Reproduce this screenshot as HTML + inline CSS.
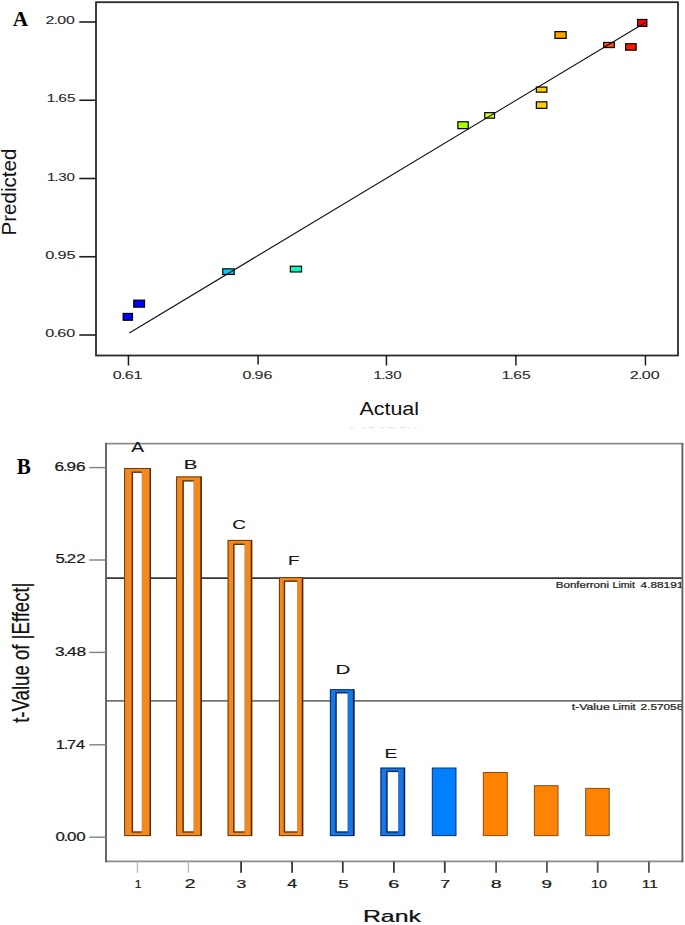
<!DOCTYPE html>
<html><head><meta charset="utf-8"><style>
html,body{margin:0;padding:0;background:#fff;overflow:hidden;width:685px;height:925px;}
svg{display:block;}
</style></head><body>
<svg width="685" height="925" viewBox="0 0 685 925">
<defs><clipPath id="cb"><rect x="106" y="443" width="575.6" height="420"/></clipPath></defs>
<rect x="96.0" y="2.2" width="582.0" height="353.3" fill="none" stroke="#2a2a2a" stroke-width="1.8"/>
<line x1="79.3" y1="22.00" x2="96" y2="22.00" stroke="#1e1e1e" stroke-width="1.6"/>
<line x1="79.3" y1="100.25" x2="96" y2="100.25" stroke="#1e1e1e" stroke-width="1.6"/>
<line x1="79.3" y1="178.50" x2="96" y2="178.50" stroke="#1e1e1e" stroke-width="1.6"/>
<line x1="79.3" y1="256.75" x2="96" y2="256.75" stroke="#1e1e1e" stroke-width="1.6"/>
<line x1="79.3" y1="335.00" x2="96" y2="335.00" stroke="#1e1e1e" stroke-width="1.6"/>
<line x1="128.44" y1="355" x2="128.44" y2="365.5" stroke="#1a1a1a" stroke-width="1.5"/>
<line x1="258.10" y1="355" x2="258.10" y2="364.5" stroke="#1a1a1a" stroke-width="1.5"/>
<line x1="386.44" y1="355" x2="386.44" y2="365.5" stroke="#1a1a1a" stroke-width="1.5"/>
<line x1="515.90" y1="355" x2="515.90" y2="365.4" stroke="#1a1a1a" stroke-width="1.5"/>
<line x1="645.44" y1="355" x2="645.44" y2="365.5" stroke="#1a1a1a" stroke-width="1.5"/>
<text transform="matrix(1.4831,0,0,1,45.41,23.69)" font-family="Liberation Sans, sans-serif" font-weight="normal" font-size="10.704" fill="#2a2a2a" stroke="#2a2a2a" stroke-width="0.100">2<tspan dx="-0.482">.</tspan><tspan dx="-0.482">0</tspan>0</text>
<text transform="matrix(1.4610,0,0,1,46.87,102.19)" font-family="Liberation Sans, sans-serif" font-weight="normal" font-size="10.563" fill="#2a2a2a" stroke="#2a2a2a" stroke-width="0.100">1<tspan dx="-0.475">.</tspan><tspan dx="-0.475">6</tspan>5</text>
<text transform="matrix(1.4502,0,0,1,46.89,180.50)" font-family="Liberation Sans, sans-serif" font-weight="normal" font-size="10.423" fill="#2a2a2a" stroke="#2a2a2a" stroke-width="0.100">1<tspan dx="-0.469">.</tspan><tspan dx="-0.469">3</tspan>0</text>
<text transform="matrix(1.4862,0,0,1,45.25,258.79)" font-family="Liberation Sans, sans-serif" font-weight="normal" font-size="10.986" fill="#2a2a2a" stroke="#2a2a2a" stroke-width="0.100">0<tspan dx="-0.494">.</tspan><tspan dx="-0.494">9</tspan>5</text>
<text transform="matrix(1.5317,0,0,1,45.25,336.79)" font-family="Liberation Sans, sans-serif" font-weight="normal" font-size="10.563" fill="#2a2a2a" stroke="#2a2a2a" stroke-width="0.100">0<tspan dx="-0.475">.</tspan><tspan dx="-0.475">6</tspan>0</text>
<text transform="matrix(1.5243,0,0,1,112.66,378.59)" font-family="Liberation Sans, sans-serif" font-weight="normal" font-size="10.563" fill="#2a2a2a" stroke="#2a2a2a" stroke-width="0.100">0<tspan dx="-0.475">.</tspan><tspan dx="-0.475">6</tspan>1</text>
<text transform="matrix(1.5243,0,0,1,242.46,378.59)" font-family="Liberation Sans, sans-serif" font-weight="normal" font-size="10.563" fill="#2a2a2a" stroke="#2a2a2a" stroke-width="0.100">0<tspan dx="-0.475">.</tspan><tspan dx="-0.475">9</tspan>6</text>
<text transform="matrix(1.3990,0,0,1,373.49,378.79)" font-family="Liberation Sans, sans-serif" font-weight="normal" font-size="10.845" fill="#2a2a2a" stroke="#2a2a2a" stroke-width="0.100">1<tspan dx="-0.488">.</tspan><tspan dx="-0.488">3</tspan>0</text>
<text transform="matrix(1.4391,0,0,1,501.65,378.79)" font-family="Liberation Sans, sans-serif" font-weight="normal" font-size="10.845" fill="#2a2a2a" stroke="#2a2a2a" stroke-width="0.100">1<tspan dx="-0.488">.</tspan><tspan dx="-0.488">6</tspan>5</text>
<text transform="matrix(1.5042,0,0,1,629.79,378.59)" font-family="Liberation Sans, sans-serif" font-weight="normal" font-size="10.704" fill="#2a2a2a" stroke="#2a2a2a" stroke-width="0.100">2<tspan dx="-0.482">.</tspan><tspan dx="-0.482">0</tspan>0</text>
<rect x="123.15" y="313.45" width="9.30" height="6.80" fill="#0000ff" stroke="#000" stroke-width="1.2"/>
<rect x="133.75" y="300.15" width="10.80" height="7.00" fill="#0000ff" stroke="#000" stroke-width="1.2"/>
<rect x="222.75" y="268.85" width="11.40" height="5.60" fill="#00d0ff" stroke="#000" stroke-width="1.2"/>
<rect x="290.35" y="266.25" width="11.20" height="5.70" fill="#00fcc2" stroke="#000" stroke-width="1.2"/>
<rect x="457.85" y="121.75" width="10.40" height="6.90" fill="#a5ff00" stroke="#000" stroke-width="1.2"/>
<rect x="484.75" y="112.65" width="9.80" height="5.50" fill="#dcff00" stroke="#000" stroke-width="1.2"/>
<rect x="536.35" y="87.05" width="10.50" height="5.10" fill="#ffcd00" stroke="#000" stroke-width="1.2"/>
<rect x="536.35" y="101.85" width="10.50" height="6.50" fill="#ffcd00" stroke="#000" stroke-width="1.2"/>
<rect x="554.95" y="31.65" width="11.20" height="6.70" fill="#ffa500" stroke="#000" stroke-width="1.2"/>
<rect x="603.65" y="42.45" width="10.70" height="5.10" fill="#ff5000" stroke="#000" stroke-width="1.2"/>
<rect x="625.65" y="43.75" width="10.50" height="6.40" fill="#ff1900" stroke="#000" stroke-width="1.2"/>
<rect x="637.55" y="19.45" width="9.30" height="6.90" fill="#ff0000" stroke="#000" stroke-width="1.2"/>
<line x1="129.3" y1="333.0" x2="645.4" y2="22.4" stroke="#111" stroke-width="1.15"/>
<text transform="matrix(0.9689,0,0,1,12.64,25.65)" font-family="Liberation Serif, sans-serif" font-weight="bold" font-size="21.970" fill="#000">A</text>
<text transform="matrix(1.1252,0,0,1,359.45,415.16)" font-family="Liberation Sans, sans-serif" font-weight="normal" font-size="19.054" fill="#111">Actual</text>
<text transform="matrix(0,-1.0507,1,0,16.05,235.50)" font-family="Liberation Sans, sans-serif" font-weight="normal" font-size="19.595" fill="#111">Predicted</text>
<rect x="349.9" y="427" width="3.2" height="1.2" fill="#e6e6e6"/>
<rect x="363" y="427" width="2.6" height="1.2" fill="#e6e6e6"/>
<rect x="368.2" y="427" width="6.6" height="1.2" fill="#e6e6e6"/>
<rect x="380" y="427" width="4.0" height="1.2" fill="#e6e6e6"/>
<rect x="387.3" y="427" width="5.9" height="1.2" fill="#e6e6e6"/>
<rect x="393.9" y="427" width="1.9" height="1.2" fill="#e6e6e6"/>
<rect x="399.8" y="427" width="6.6" height="1.2" fill="#e6e6e6"/>
<rect x="407.7" y="427" width="1.9" height="1.2" fill="#e6e6e6"/>
<rect x="414.2" y="427" width="2.7" height="1.2" fill="#e6e6e6"/>
<line x1="106" y1="578.1" x2="682" y2="578.1" stroke="#3a3434" stroke-width="1.6"/>
<line x1="106" y1="700.9" x2="682" y2="700.9" stroke="#727272" stroke-width="1.9"/>
<path d="M105.2,443.65 H683.2 M105.2,861.4 H683.2" stroke="#8a8a8a" stroke-width="1.6" fill="none"/>
<path d="M106.0,443 V862.2 M682.4,443 V862.2" stroke="#626262" stroke-width="1.9" fill="none"/>
<line x1="89.3" y1="467.60" x2="106" y2="467.60" stroke="#808080" stroke-width="1.4"/>
<line x1="89.3" y1="560.00" x2="106" y2="560.00" stroke="#808080" stroke-width="1.4"/>
<line x1="89.3" y1="652.40" x2="106" y2="652.40" stroke="#808080" stroke-width="1.4"/>
<line x1="89.3" y1="744.80" x2="106" y2="744.80" stroke="#808080" stroke-width="1.4"/>
<line x1="89.3" y1="837.20" x2="106" y2="837.20" stroke="#808080" stroke-width="1.4"/>
<line x1="137.44" y1="861.5" x2="137.44" y2="872.8" stroke="#b8b8b8" stroke-width="1.3"/>
<line x1="188.40" y1="861.5" x2="188.40" y2="872.8" stroke="#b8b8b8" stroke-width="1.3"/>
<line x1="241.10" y1="861.5" x2="241.10" y2="872.8" stroke="#383838" stroke-width="1.8"/>
<line x1="292.10" y1="861.5" x2="292.10" y2="872.8" stroke="#383838" stroke-width="1.8"/>
<line x1="342.80" y1="861.5" x2="342.80" y2="872.8" stroke="#383838" stroke-width="1.8"/>
<line x1="393.90" y1="861.5" x2="393.90" y2="872.8" stroke="#383838" stroke-width="1.8"/>
<line x1="444.80" y1="861.5" x2="444.80" y2="872.8" stroke="#383838" stroke-width="1.8"/>
<line x1="496.10" y1="861.5" x2="496.10" y2="872.8" stroke="#555" stroke-width="1.8"/>
<line x1="546.90" y1="861.5" x2="546.90" y2="872.8" stroke="#555" stroke-width="1.8"/>
<line x1="597.70" y1="861.5" x2="597.70" y2="872.8" stroke="#555" stroke-width="1.8"/>
<line x1="648.90" y1="861.5" x2="648.90" y2="872.8" stroke="#555" stroke-width="1.8"/>
<text transform="matrix(1.0416,0,0,1,134.70,887.94)" font-family="Liberation Sans, sans-serif" font-weight="normal" font-size="11.565" fill="#1a1a1a" stroke="#1a1a1a" stroke-width="0.220">1</text>
<text transform="matrix(1.6125,0,0,1,184.79,888.14)" font-family="Liberation Sans, sans-serif" font-weight="normal" font-size="11.971" fill="#1a1a1a" stroke="#1a1a1a" stroke-width="0.220">2</text>
<text transform="matrix(1.4926,0,0,1,236.46,888.02)" font-family="Liberation Sans, sans-serif" font-weight="normal" font-size="11.803" fill="#1a1a1a" stroke="#1a1a1a" stroke-width="0.220">3</text>
<text transform="matrix(1.4983,0,0,1,287.30,888.16)" font-family="Liberation Sans, sans-serif" font-weight="normal" font-size="11.882" fill="#1a1a1a" stroke="#1a1a1a" stroke-width="0.220">4</text>
<text transform="matrix(1.5986,0,0,1,338.31,888.02)" font-family="Liberation Sans, sans-serif" font-weight="normal" font-size="11.686" fill="#1a1a1a" stroke="#1a1a1a" stroke-width="0.220">5</text>
<text transform="matrix(1.6908,0,0,1,388.36,888.02)" font-family="Liberation Sans, sans-serif" font-weight="normal" font-size="11.803" fill="#1a1a1a" stroke="#1a1a1a" stroke-width="0.220">6</text>
<text transform="matrix(1.5338,0,0,1,440.16,888.06)" font-family="Liberation Sans, sans-serif" font-weight="normal" font-size="11.735" fill="#1a1a1a" stroke="#1a1a1a" stroke-width="0.220">7</text>
<text transform="matrix(1.6549,0,0,1,490.78,888.02)" font-family="Liberation Sans, sans-serif" font-weight="normal" font-size="11.803" fill="#1a1a1a" stroke="#1a1a1a" stroke-width="0.220">8</text>
<text transform="matrix(1.5987,0,0,1,541.52,888.02)" font-family="Liberation Sans, sans-serif" font-weight="normal" font-size="11.803" fill="#1a1a1a" stroke="#1a1a1a" stroke-width="0.220">9</text>
<text transform="matrix(1.3511,0,0,1,591.11,887.83)" font-family="Liberation Sans, sans-serif" font-weight="normal" font-size="10.676" fill="#1a1a1a" stroke="#1a1a1a" stroke-width="0.220">10</text>
<text transform="matrix(1.4084,0,0,1,641.82,887.94)" font-family="Liberation Sans, sans-serif" font-weight="normal" font-size="10.986" fill="#1a1a1a" stroke="#1a1a1a" stroke-width="0.220">11</text>
<text transform="matrix(1.4253,0,0,1,54.60,470.52)" font-family="Liberation Sans, sans-serif" font-weight="normal" font-size="12.085" fill="#1a1a1a" stroke="#1a1a1a" stroke-width="0.220">6<tspan dx="-0.906">.</tspan><tspan dx="-0.906">9</tspan>6</text>
<text transform="matrix(1.3410,0,0,1,55.39,563.01)" font-family="Liberation Sans, sans-serif" font-weight="normal" font-size="12.507" fill="#1a1a1a" stroke="#1a1a1a" stroke-width="0.220">5<tspan dx="-0.938">.</tspan><tspan dx="-0.938">2</tspan>2</text>
<text transform="matrix(1.3572,0,0,1,55.07,656.31)" font-family="Liberation Sans, sans-serif" font-weight="normal" font-size="12.789" fill="#1a1a1a" stroke="#1a1a1a" stroke-width="0.220">3<tspan dx="-0.959">.</tspan><tspan dx="-0.959">4</tspan>8</text>
<text transform="matrix(1.3124,0,0,1,55.85,748.54)" font-family="Liberation Sans, sans-serif" font-weight="normal" font-size="12.435" fill="#1a1a1a" stroke="#1a1a1a" stroke-width="0.220">1<tspan dx="-0.933">.</tspan><tspan dx="-0.933">7</tspan>4</text>
<text transform="matrix(1.3175,0,0,1,55.39,841.21)" font-family="Liberation Sans, sans-serif" font-weight="normal" font-size="12.789" fill="#1a1a1a" stroke="#1a1a1a" stroke-width="0.220">0<tspan dx="-0.959">.</tspan><tspan dx="-0.959">0</tspan>0</text>
<rect x="124.1" y="468.0" width="26.9" height="368.1" fill="#f2891e"/>
<rect x="124.6" y="468.5" width="25.9" height="367.1" fill="none" stroke="#4a2408" stroke-width="1" stroke-opacity="0.8"/>
<rect x="149.5" y="468.5" width="1.5" height="367.1" fill="#4a2408" fill-opacity="0.85"/>
<rect x="131.6" y="471.5" width="10.2" height="361.2" fill="#4a2408" fill-opacity="0.85"/>
<rect x="133.1" y="472.9" width="8.7" height="358.4" fill="#fff"/>
<rect x="176.1" y="476.4" width="25.7" height="359.7" fill="#f2891e"/>
<rect x="176.6" y="476.9" width="24.7" height="358.7" fill="none" stroke="#4a2408" stroke-width="1" stroke-opacity="0.8"/>
<rect x="200.3" y="476.9" width="1.5" height="358.7" fill="#4a2408" fill-opacity="0.85"/>
<rect x="182.4" y="480.2" width="11.2" height="352.5" fill="#4a2408" fill-opacity="0.85"/>
<rect x="183.9" y="481.6" width="9.7" height="349.7" fill="#fff"/>
<rect x="227.6" y="539.9" width="24.6" height="296.2" fill="#f2891e"/>
<rect x="228.1" y="540.4" width="23.6" height="295.2" fill="none" stroke="#4a2408" stroke-width="1" stroke-opacity="0.8"/>
<rect x="250.7" y="540.4" width="1.5" height="295.2" fill="#4a2408" fill-opacity="0.85"/>
<rect x="233.1" y="543.6" width="11.5" height="289.1" fill="#4a2408" fill-opacity="0.85"/>
<rect x="234.6" y="545.0" width="10.0" height="286.3" fill="#fff"/>
<rect x="278.9" y="577.1" width="24.3" height="259.0" fill="#f2891e"/>
<rect x="279.4" y="577.6" width="23.3" height="258.0" fill="none" stroke="#4a2408" stroke-width="1" stroke-opacity="0.8"/>
<rect x="301.7" y="577.6" width="1.5" height="258.0" fill="#4a2408" fill-opacity="0.85"/>
<rect x="283.7" y="580.5" width="13.5" height="252.2" fill="#4a2408" fill-opacity="0.85"/>
<rect x="285.2" y="581.9" width="12.0" height="249.4" fill="#fff"/>
<rect x="329.9" y="689.2" width="24.5" height="146.9" fill="#1676e4"/>
<rect x="330.4" y="689.7" width="23.5" height="145.9" fill="none" stroke="#061a4a" stroke-width="1" stroke-opacity="0.8"/>
<rect x="352.9" y="689.7" width="1.5" height="145.9" fill="#061a4a" fill-opacity="0.85"/>
<rect x="335.3" y="692.1" width="12.3" height="140.6" fill="#061a4a" fill-opacity="0.85"/>
<rect x="336.8" y="693.5" width="10.8" height="137.8" fill="#fff"/>
<rect x="380.4" y="767.6" width="24.7" height="68.5" fill="#1676e4"/>
<rect x="380.9" y="768.1" width="23.7" height="67.5" fill="none" stroke="#061a4a" stroke-width="1" stroke-opacity="0.8"/>
<rect x="403.6" y="768.1" width="1.5" height="67.5" fill="#061a4a" fill-opacity="0.85"/>
<rect x="386.2" y="770.7" width="12.0" height="62.0" fill="#061a4a" fill-opacity="0.85"/>
<rect x="387.7" y="772.1" width="10.5" height="59.2" fill="#fff"/>
<rect x="432.3" y="768.0" width="23.7" height="67.6" fill="#0080ff" stroke="#0a3070" stroke-width="1"/>
<rect x="483.3" y="772.5" width="24.0" height="63.1" fill="#ff8200" stroke="#8a4a10" stroke-width="1"/>
<rect x="534.4" y="785.7" width="23.6" height="49.9" fill="#ff8200" stroke="#8a4a10" stroke-width="1"/>
<rect x="585.7" y="788.4" width="23.5" height="47.2" fill="#ff8200" stroke="#8a4a10" stroke-width="1"/>
<text transform="matrix(1.3564,0,0,1,131.32,452.47)" font-family="Liberation Sans, sans-serif" font-weight="normal" font-size="14.130" fill="#151515" stroke="#151515" stroke-width="0.150">A</text>
<text transform="matrix(1.5783,0,0,1,183.69,469.07)" font-family="Liberation Sans, sans-serif" font-weight="normal" font-size="12.971" fill="#151515" stroke="#151515" stroke-width="0.150">B</text>
<text transform="matrix(1.5569,0,0,1,232.18,529.25)" font-family="Liberation Sans, sans-serif" font-weight="normal" font-size="12.183" fill="#151515" stroke="#151515" stroke-width="0.150">C</text>
<text transform="matrix(1.4082,0,0,1,288.01,565.48)" font-family="Liberation Sans, sans-serif" font-weight="normal" font-size="13.406" fill="#151515" stroke="#151515" stroke-width="0.150">F</text>
<text transform="matrix(1.5197,0,0,1,335.58,674.07)" font-family="Liberation Sans, sans-serif" font-weight="normal" font-size="13.551" fill="#151515" stroke="#151515" stroke-width="0.150">D</text>
<text transform="matrix(1.4944,0,0,1,384.39,757.88)" font-family="Liberation Sans, sans-serif" font-weight="normal" font-size="12.826" fill="#151515" stroke="#151515" stroke-width="0.150">E</text>
<g clip-path="url(#cb)">
<text transform="matrix(1.4044,0,0,1,555.84,587.56)" font-family="Liberation Sans, sans-serif" font-weight="normal" font-size="8.216" fill="#222" stroke="#222" stroke-width="0.220">Bonferroni</text>
<text transform="matrix(1.2882,0,0,1,612.51,587.56)" font-family="Liberation Sans, sans-serif" font-weight="normal" font-size="8.216" fill="#222" stroke="#222" stroke-width="0.220">Limit</text>
<text transform="matrix(1.3815,0,0,1,640.62,587.55)" font-family="Liberation Sans, sans-serif" font-weight="normal" font-size="8.563" fill="#222" stroke="#222" stroke-width="0.220">4.88191</text>
<text transform="matrix(1.4032,0,0,1,571.76,710.35)" font-family="Liberation Sans, sans-serif" font-weight="normal" font-size="8.757" fill="#222" stroke="#222" stroke-width="0.220">t-Value</text>
<text transform="matrix(1.2938,0,0,1,612.48,710.36)" font-family="Liberation Sans, sans-serif" font-weight="normal" font-size="8.486" fill="#222" stroke="#222" stroke-width="0.220">Limit</text>
<text transform="matrix(1.3355,0,0,1,640.57,710.35)" font-family="Liberation Sans, sans-serif" font-weight="normal" font-size="8.845" fill="#222" stroke="#222" stroke-width="0.220">2.57058</text>
</g>
<text transform="matrix(1.5298,0,0,1,362.88,922.06)" font-family="Liberation Sans, sans-serif" font-weight="normal" font-size="16.284" fill="#111" stroke="#111" stroke-width="0.250">Rank</text>
<text transform="matrix(0,-0.7932,1,0,28.80,722.80)" font-family="Liberation Sans, sans-serif" font-weight="normal" font-size="23.457" fill="#111" stroke="#111" stroke-width="0.250">t-Value of |Effect|</text>
<text transform="matrix(0.9537,0,0,1,16.63,473.65)" font-family="Liberation Serif, sans-serif" font-weight="bold" font-size="22.154" fill="#000">B</text>
</svg>
</body></html>
